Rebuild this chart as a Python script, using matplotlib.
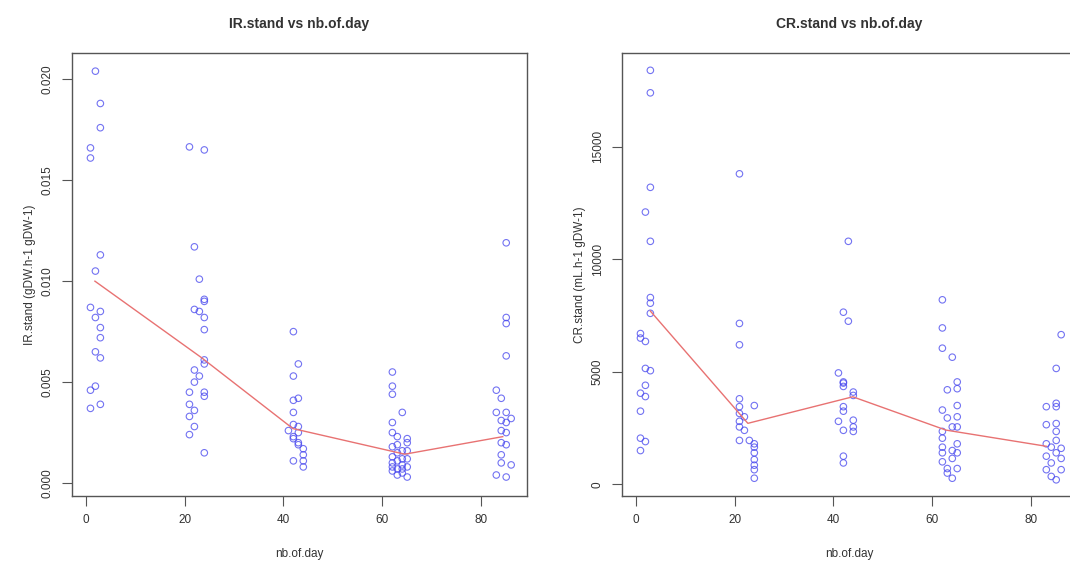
import numpy as np
import matplotlib
matplotlib.use("Agg")
import matplotlib.pyplot as plt

plt.rcParams['font.family'] = ['Liberation Sans', 'DejaVu Sans']

# IR.stand vs nb.of.day
ir_day = [2, 3, 3, 1, 1, 3, 2, 1, 3, 2, 3, 3, 2, 3, 1, 2, 1, 3,
          21, 24, 22, 23, 24, 24, 22, 23, 24, 24, 24, 24, 22, 23, 22, 24, 21, 24, 21, 22, 21, 22, 21, 24,
          42, 43, 42, 42, 43, 42, 42, 43, 42, 41, 43, 42, 43, 44, 42, 44, 44, 43, 44,
          62, 62, 62, 64, 62, 62, 63, 65, 65, 62, 64, 63, 62, 65, 63, 62, 64, 65, 63, 62, 64, 63, 65,
          64, 65, 63, 64, 62,
          85, 85, 85, 85, 83, 84, 86, 83, 85, 84, 85, 84, 85, 84, 85, 84, 84, 86, 83, 85]
ir_val = [0.0204, 0.0188, 0.0176, 0.0166, 0.0161, 0.0113, 0.0105, 0.0087, 0.0085, 0.0082,
          0.0077, 0.0072, 0.0065, 0.0062, 0.0046, 0.0048, 0.0037, 0.0039,
          0.01665, 0.0165, 0.0117, 0.0101, 0.0091, 0.0090, 0.0086, 0.0085, 0.0082, 0.0076,
          0.0061, 0.0059, 0.0056, 0.0053, 0.0050, 0.0045, 0.0045, 0.0043, 0.0039, 0.0036,
          0.0033, 0.0028, 0.0024, 0.0015,
          0.0075, 0.0059, 0.0053, 0.0041, 0.0042, 0.0035, 0.0029, 0.0028, 0.0022, 0.0026,
          0.0025, 0.0023, 0.0020, 0.0017, 0.0011, 0.0011, 0.0008, 0.0019, 0.0014,
          0.0055, 0.0048, 0.0044, 0.0035, 0.0030, 0.0025, 0.0023, 0.0022, 0.0020, 0.0018,
          0.0016, 0.0015, 0.0013, 0.0012, 0.0011, 0.0010, 0.0009, 0.0008, 0.0007, 0.0006,
          0.0005, 0.0004, 0.0003, 0.0012, 0.0016, 0.0019, 0.0007, 0.0008,
          0.0119, 0.0082, 0.0079, 0.0063, 0.0046, 0.0042, 0.0032, 0.0035, 0.0035, 0.0031,
          0.0030, 0.0026, 0.0025, 0.0020, 0.0019, 0.0014, 0.0010, 0.0009, 0.0004, 0.0003]
ir_line_day = [1.9, 23.5, 41.9, 64.5, 84.3]
ir_line_val = [0.0100, 0.0062, 0.0027, 0.00143, 0.0023]

# CR.stand vs nb.of.day
cr_day = [3, 3, 3, 2, 3, 3, 3, 3, 1, 1, 2, 2, 3, 2, 1, 2, 1, 1, 2, 1,
          21, 21, 21, 21, 24, 21, 21, 22, 21, 21, 22, 21, 23, 24, 24, 24, 24, 24, 24, 24,
          43, 42, 43, 41, 42, 42, 42, 44, 44, 42, 42, 41, 44, 44, 42, 44, 42, 42,
          62, 62, 62, 64, 65, 63, 65, 65, 65, 62, 63, 64, 65, 62, 62, 65, 62, 64, 62, 65,
          64, 62, 63, 65, 63, 64,
          86, 85, 85, 83, 85, 83, 85, 85, 85, 83, 84, 86, 85, 83, 86, 84, 83, 86, 84, 85]
cr_val = [18400, 17400, 13200, 12100, 10800, 8300, 8050, 7600, 6700, 6500,
          6350, 5150, 5050, 4400, 4050, 3900, 3250, 2050, 1900, 1500,
          13800, 7150, 6200, 3800, 3500, 3450, 3150, 3000, 2800, 2550,
          2400, 1950, 1950, 1800, 1650, 1400, 1100, 850, 650, 270,
          10800, 7650, 7250, 4950, 4500, 4550, 4350, 4100, 3950, 3450,
          3250, 2800, 2850, 2550, 2400, 2350, 1250, 950,
          8200, 6950, 6050, 5650, 4550, 4200, 4250, 3500, 3000, 3300,
          2950, 2550, 2550, 2350, 2050, 1800, 1650, 1500, 1400, 1400,
          1150, 1000, 700, 700, 500, 270,
          6650, 5150, 3600, 3450, 3450, 2650, 2700, 2350, 1950, 1800,
          1650, 1600, 1400, 1250, 1150, 950, 650, 650, 350, 200]
cr_line_day = [3.0, 22.7, 43.9, 62.7, 83.0]
cr_line_val = [7700, 2710, 3890, 2410, 1690]

fig = plt.figure(figsize=(10.7, 5.67), dpi=100)
ax1 = fig.add_axes([72 / 1070, 71 / 567, 455 / 1070, 443 / 567])
ax2 = fig.add_axes([622 / 1070, 71 / 567, 455 / 1070, 443 / 567])

txt = '#333333'
frame = '#555555'

def style(ax, title, ylabel):
    ax.set_xlim(-2.73, 89.2)
    ax.set_xticks([0, 20, 40, 60, 80])
    ax.set_title(title, fontsize=10, fontweight='bold', color=txt, pad=18)
    ax.set_xlabel('nb.of.day', fontsize=8.5, color=txt, labelpad=16)
    ax.set_ylabel(ylabel, fontsize=8.5, color=txt, labelpad=4)
    for s in ax.spines.values():
        s.set_color(frame)
        s.set_linewidth(1)
    ax.tick_params(colors=frame, labelcolor=txt, labelsize=8.5, length=7, width=0.8, pad=6)
    ax.tick_params(axis='y', labelrotation=90)
    for lab in ax.get_yticklabels():
        lab.set_va('center')

ax1.scatter(ir_day, ir_val, s=22, facecolors='none', edgecolors='#4444ee', linewidths=0.8, alpha=0.75)
ax1.plot(ir_line_day, ir_line_val, color='#e87272', lw=1)
ax1.set_ylim(-0.00064, 0.0213)
ax1.set_yticks([0, 0.005, 0.010, 0.015, 0.020])
ax1.set_yticklabels(['0.000', '0.005', '0.010', '0.015', '0.020'])
style(ax1, 'IR.stand vs nb.of.day', 'IR.stand (gDW.h-1 gDW-1)')

ax2.scatter(cr_day, cr_val, s=22, facecolors='none', edgecolors='#4444ee', linewidths=0.8, alpha=0.75)
ax2.plot(cr_line_day, cr_line_val, color='#e87272', lw=1)
ax2.set_ylim(-520, 19170)
ax2.set_yticks([0, 5000, 10000, 15000])
ax2.set_yticklabels(['0', '5000', '10000', '15000'])
style(ax2, 'CR.stand vs nb.of.day', 'CR.stand (mL.h-1 gDW-1)')

fig.savefig('out.png', dpi=100)
